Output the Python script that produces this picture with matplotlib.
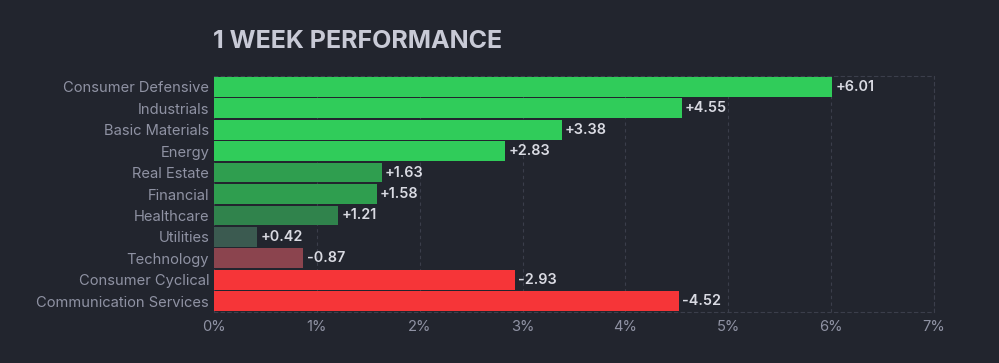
import matplotlib
matplotlib.use("Agg")
import matplotlib.pyplot as plt
from matplotlib.ticker import FuncFormatter

sectors = ["Consumer Defensive", "Industrials", "Basic Materials", "Energy",
           "Real Estate", "Financial", "Healthcare", "Utilities",
           "Technology", "Consumer Cyclical", "Communication Services"]
changes = [6.01, 4.55, 3.38, 2.83, 1.63, 1.58, 1.21, 0.42, -0.87, -2.93, -4.52]
bar_colors = ["#30cc5a", "#30cc5a", "#30cc5a", "#30cc5a", "#2f9e4f", "#2f9e4f",
              "#30834c", "#3b5a50", "#8b444e", "#f63538", "#f63538"]

BG = "#22252e"
GRID = "#3b3e4b"

plt.rcParams["font.family"] = ["Inter", "DejaVu Sans"]

fig = plt.figure(figsize=(9.99, 3.63), dpi=100, facecolor=BG)
ax = fig.add_axes([214 / 999, 1 - 312 / 363, 720 / 999, 236 / 363])
ax.set_facecolor(BG)

y = list(range(len(sectors)))
vals = [abs(v) for v in changes]
ax.barh(y, vals, height=0.92, color=bar_colors, zorder=3)

for yi, v, c in zip(y, vals, changes):
    ax.text(v + 0.03, yi, "{:+.2f}".format(c), va="center", ha="left",
            color="#d9dae2", fontsize=10.4, fontweight="semibold", zorder=4)

ax.set_xlim(0, 7)
ax.set_ylim(len(sectors) - 0.5, -0.5)
ax.set_yticks(y)
ax.set_yticklabels(sectors)
ax.set_xticks(range(8))
ax.xaxis.set_major_formatter(FuncFormatter(lambda x, p: "{:d}%".format(int(x))))
ax.tick_params(axis="both", length=0, colors="#8f92a3", labelsize=10.6)
ax.tick_params(axis="y", pad=3.5)
ax.tick_params(axis="x", pad=6)
ax.grid(axis="x", color=GRID, linestyle=(0, (3, 3)), linewidth=0.8, zorder=0)

ax.spines["left"].set_visible(False)
for side in ("top", "bottom", "right"):
    ax.spines[side].set_color(GRID)
    ax.spines[side].set_linestyle((0, (3, 3)))
    ax.spines[side].set_linewidth(0.8)

fig.text(213 / 999, 1 - 41 / 363, "1 WEEK PERFORMANCE", color="#c8cad6",
         fontsize=18, fontweight="bold", va="center", ha="left")

fig.savefig("out.png", dpi=100, facecolor=BG)
